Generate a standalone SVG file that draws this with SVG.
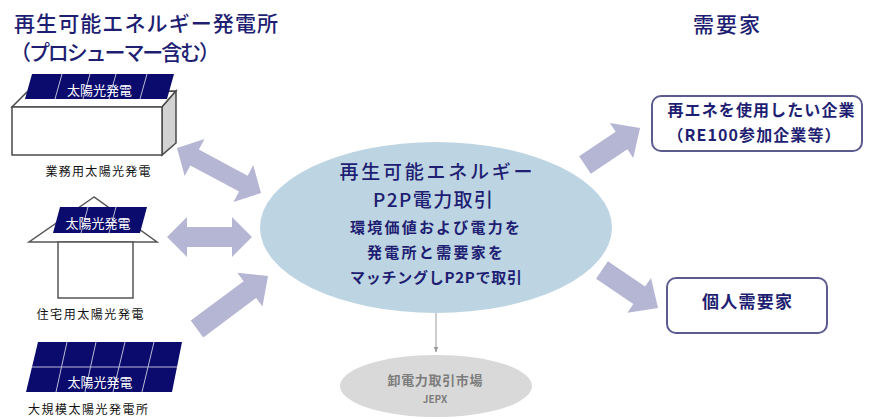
<svg xmlns="http://www.w3.org/2000/svg" width="870" height="419" viewBox="0 0 870 419">
  <style>
    text { font-family: "Noto Sans CJK JP", "Noto Sans", sans-serif; }
    .navy { fill: #1e1e72; }
    .head { font-size: 21px; font-weight: 500; }
    .lbl { font-size: 12px; fill: #111; }
    .pv { fill: #0b0b6e; }
    .pvtxt { font-size: 13px; fill: #ffffff; }
    .grid { stroke: #b9b9d8; stroke-width: 1; fill: none; }
    .arrow { fill: #b5b5d4; }
    .box { fill: #ffffff; stroke: #5b5b90; stroke-width: 2; }
    .bld { stroke: #4a4a4a; stroke-width: 1.5; }
  </style>
  <defs>
    <marker id="tri" viewBox="0 0 10 10" refX="9" refY="5" markerWidth="6" markerHeight="6" orient="auto">
      <path d="M0,1 L10,5 L0,9 Z" fill="#9a9a9a"/>
    </marker>
  </defs>

  <rect width="870" height="419" fill="#ffffff"/>

  <!-- headings -->
  <g id="heading-supply">
    <text class="navy head" x="14" y="31" textLength="264" lengthAdjust="spacing">再生可能エネルギー発電所</text>
    <text class="navy head" x="10" y="60" textLength="210" lengthAdjust="spacing">（プロシューマー含む）</text>
  </g>
  <g id="heading-demand">
    <text class="navy head" x="693" y="32" textLength="67" lengthAdjust="spacing">需要家</text>
  </g>

  <!-- commercial rooftop PV -->
  <g id="node-commercial">
    <polygon points="12,107 27,92 176,91 162,107" fill="#ffffff" class="bld"/>
    <polygon points="162,107 176,91 176,143 162,155" fill="#d2d2d2" class="bld"/>
    <rect x="12" y="107" width="150" height="48" fill="#ffffff" class="bld"/>
    <polygon class="pv" points="32,74 174,74 167,99 25,99"/>
    <path class="grid" d="M62,74 L55,99 M90,74 L83,99 M116,74 L109,99 M147,74 L140,99"/>
    <text class="pvtxt" x="99.5" y="95" text-anchor="middle">太陽光発電</text>
    <text class="lbl" x="98" y="176" text-anchor="middle" textLength="105" lengthAdjust="spacing">業務用太陽光発電</text>
  </g>

  <!-- residential PV -->
  <g id="node-residential">
    <polygon points="94,197 29,242 157,242" fill="#ffffff" stroke="#555555" stroke-width="1.5"/>
    <rect x="58" y="242" width="75" height="56" fill="#ffffff" stroke="#555555" stroke-width="1.5"/>
    <polygon class="pv" points="60,207 147,207 140,233 53,233"/>
    <path class="grid" d="M88,207 L81,233 M116,207 L109,233"/>
    <text class="pvtxt" x="98" y="228" text-anchor="middle">太陽光発電</text>
    <text class="lbl" x="90" y="319" text-anchor="middle" textLength="107" lengthAdjust="spacing">住宅用太陽光発電</text>
  </g>

  <!-- utility-scale PV -->
  <g id="node-utility">
    <polygon class="pv" points="38,342 182,342 172,392 26,392"/>
    <path class="grid" d="M67,342 L56,392 M96,342 L85,392 M125,342 L113,392 M154,342 L142,392 M32,367 L177,367"/>
    <text class="pvtxt" x="100" y="387" text-anchor="middle">太陽光発電</text>
    <text class="lbl" x="88" y="414" text-anchor="middle" textLength="120" lengthAdjust="spacing">大規模太陽光発電所</text>
  </g>

  <!-- P2P trading hub -->
  <g id="node-p2p">
    <ellipse cx="436" cy="227.5" rx="176" ry="85.5" fill="#bdd4e2"/>
    <text class="navy" x="436" y="179" font-size="19" font-weight="500" text-anchor="middle" textLength="193" lengthAdjust="spacing">再生可能エネルギー</text>
    <text class="navy" x="433" y="207" font-size="19" font-weight="500" text-anchor="middle" textLength="120" lengthAdjust="spacing">P2P電力取引</text>
    <text class="navy" x="435" y="233" font-size="15" font-weight="bold" text-anchor="middle" textLength="170" lengthAdjust="spacing">環境価値および電力を</text>
    <text class="navy" x="435" y="258" font-size="15" font-weight="bold" text-anchor="middle" textLength="136" lengthAdjust="spacing">発電所と需要家を</text>
    <text class="navy" x="436" y="283" font-size="15" font-weight="bold" text-anchor="middle" textLength="172" lengthAdjust="spacing">マッチングしP2Pで取引</text>
  </g>

  <!-- wholesale market -->
  <g id="node-jepx">
    <ellipse cx="436" cy="386" rx="96" ry="31" fill="#d9d9d9"/>
    <text x="435" y="385" font-size="13" font-weight="bold" fill="#7c7c7c" text-anchor="middle" textLength="95" lengthAdjust="spacing">卸電力取引市場</text>
    <text x="435" y="403" font-size="10" font-weight="bold" fill="#7c7c7c" text-anchor="middle">JEPX</text>
  </g>

  <!-- consumers -->
  <g id="node-corporate">
    <rect class="box" x="652" y="96" width="210" height="55" rx="9"/>
    <text class="navy" x="761" y="116" font-size="16" font-weight="bold" text-anchor="middle" textLength="187" lengthAdjust="spacing">再エネを使用したい企業</text>
    <text class="navy" x="754" y="141" font-size="16" font-weight="bold" text-anchor="middle" textLength="173" lengthAdjust="spacing">（RE100参加企業等）</text>
  </g>
  <g id="node-individual">
    <rect class="box" x="667" y="278" width="160" height="55" rx="9"/>
    <text class="navy" x="747" y="308" font-size="17" font-weight="bold" text-anchor="middle" textLength="90" lengthAdjust="spacing">個人需要家</text>
  </g>

  <!-- connectors -->
  <g id="connectors">
    <!-- two-way: commercial <-> hub -->
    <path class="arrow" transform="translate(177,148) rotate(28.2)" d="M0,0 L20,-21 L20,-9 L75.3,-9 L75.3,-21 L95.3,0 L75.3,21 L75.3,9 L20,9 L20,21 Z"/>
    <!-- two-way: residential <-> hub -->
    <path class="arrow" transform="translate(167,237)" d="M0,0 L20,-20 L20,-10 L65,-10 L65,-20 L85,0 L65,20 L65,10 L20,10 L20,20 Z"/>
    <!-- one-way: utility -> hub -->
    <path class="arrow" transform="translate(197,329) rotate(-36.7)" d="M0,-10.5 L66,-10.5 L66,-21 L88.6,0 L66,21 L66,10.5 L0,10.5 Z"/>
    <!-- hub -> corporate -->
    <path class="arrow" transform="translate(585,165) rotate(-33.9)" d="M0,-10.5 L44,-10.5 L44,-21 L66.3,0 L44,21 L44,10.5 L0,10.5 Z"/>
    <!-- hub -> individual -->
    <path class="arrow" transform="translate(602,270) rotate(34.2)" d="M0,-10.5 L45,-10.5 L45,-21 L67.7,0 L45,21 L45,10.5 L0,10.5 Z"/>
    <!-- hub -> wholesale market -->
    <line x1="436" y1="313" x2="436" y2="352" stroke="#9a9a9a" stroke-width="1" marker-end="url(#tri)"/>
  </g>
</svg>
